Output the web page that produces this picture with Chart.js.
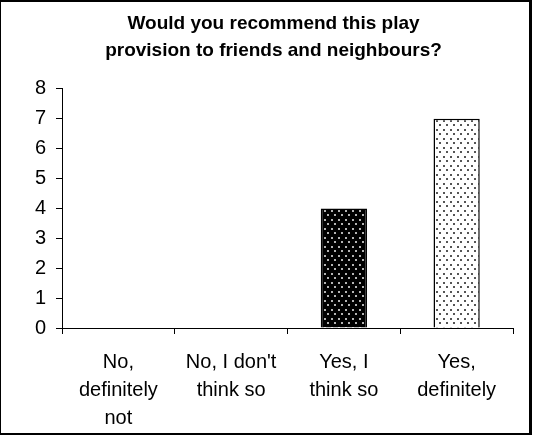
<!DOCTYPE html>
<html>
<head>
<meta charset="utf-8">
<script src="https://cdn.jsdelivr.net/npm/chart.js@4"></script>
<style>
  body { margin: 0; background: #fff; }
  #frame {
    position: absolute; left: 0; top: 0;
    width: 528px; height: 431px;
    border-style: solid; border-color: #000;
    border-width: 2px 3px 2px 1px;
    background: #fff;
  }
</style>
</head>
<body>
<div id="frame"><canvas id="recommendChart" width="528" height="431"></canvas></div>
<script>
// Survey answers
const categories = [
    ['No,', 'definitely', 'not'],
    ["No, I don't", 'think so'],
    ['Yes, I', 'think so'],
    ['Yes,', 'definitely']
];
const responses = [0, 0, 4, 7];
const yMin = 0;
const yMax = 8;
const yStep = 1;
const titleLines = ['Would you recommend this play', 'provision to friends and neighbours?'];

const FONT = "'Liberation Sans', Arial, sans-serif";

// small dotted fill, like the old office patterns
function dotPattern(bg, dot) {
    const c = document.createElement('canvas');
    c.width = 7;
    c.height = 9;
    const g = c.getContext('2d');
    g.fillStyle = bg;
    g.fillRect(0, 0, 7, 9);
    g.fillStyle = dot;
    g.fillRect(1, 1, 2, 2);
    g.fillRect(4, 5, 2, 2);
    return g.createPattern(c, 'repeat');
}

const ctx = document.getElementById('recommendChart').getContext('2d');
const darkDots = dotPattern('#000', '#b4b4b4');
const lightDots = dotPattern('#fff', '#555');

const recommendChart = new Chart(ctx, {
    type: 'bar',
    data: {
        labels: categories,
        datasets: [{
            data: responses,
            backgroundColor: [lightDots, darkDots, darkDots, lightDots],
            borderColor: '#000',
            borderWidth: 1.5,
            categoryPercentage: 0.82,
            barPercentage: 0.5
        }]
    },
    options: {
        responsive: false,
        animation: false,
        layout: {
            padding: { left: 33, right: 16, top: 0, bottom: 0 }
        },
        plugins: {
            legend: { display: false },
            tooltip: { enabled: false },
            title: {
                display: true,
                text: titleLines,
                color: '#000',
                font: { family: FONT, size: 19, weight: 'bold', lineHeight: 1.42 },
                padding: { top: 8, bottom: 25 }
            }
        },
        scales: {
            x: {
                grid: {
                    display: true,
                    drawOnChartArea: false,
                    drawTicks: true,
                    tickLength: 6,
                    color: '#000',
                    offset: true
                },
                border: { color: '#000', width: 1 },
                ticks: {
                    color: '#000',
                    font: { family: FONT, size: 20, lineHeight: 1.4 },
                    padding: 14,
                    maxRotation: 0,
                    autoSkip: false
                },
                afterFit: (scale) => { scale.height = 105; }
            },
            y: {
                min: yMin,
                max: yMax,
                grid: {
                    drawOnChartArea: false,
                    tickLength: 6,
                    color: '#000'
                },
                border: { color: '#000', width: 1 },
                ticks: {
                    stepSize: yStep,
                    color: '#000',
                    font: { family: FONT, size: 20 },
                    padding: 10
                },
                // labels are single digits, keep the axis narrow
                afterFit: (scale) => { scale.width = 28; }
            }
        }
    }
});
</script>
</body>
</html>
